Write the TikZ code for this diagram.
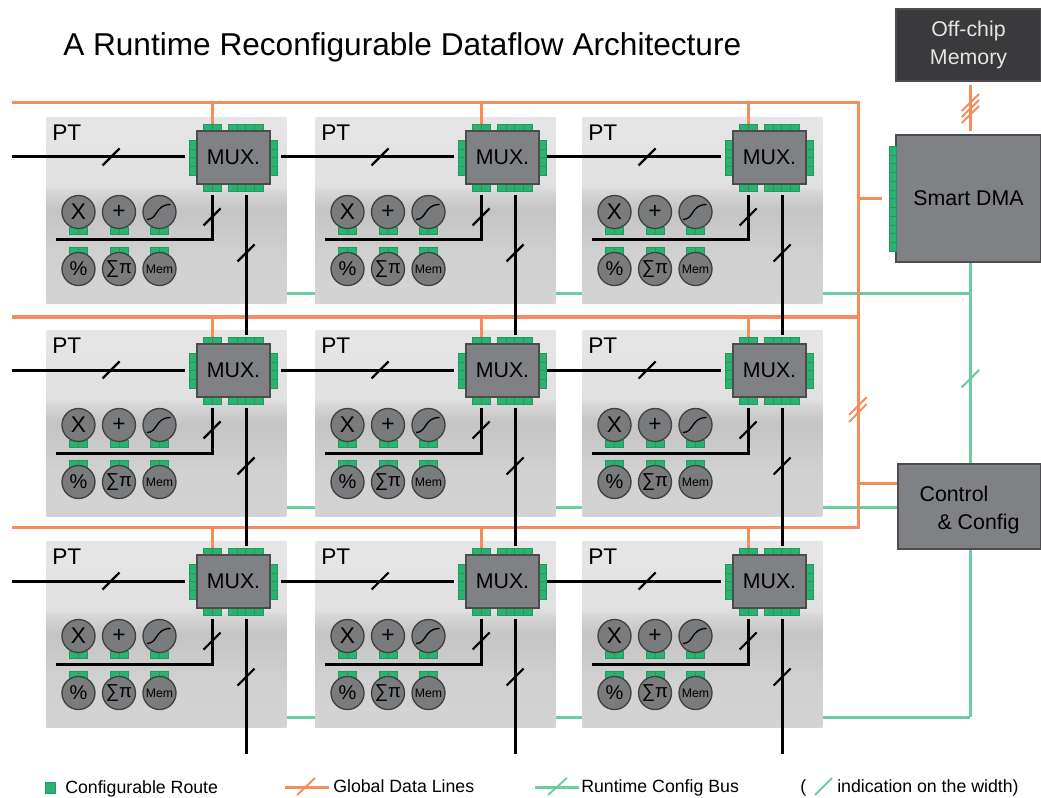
\documentclass[tikz,border=0pt]{standalone}
\usepackage{fontspec}
\setmainfont{Liberation Sans}
\definecolor{globalorange}{RGB}{246,140,92}
\definecolor{configgreen}{RGB}{110,205,160}
\definecolor{padgreen}{RGB}{42,178,112}
\definecolor{padedge}{RGB}{36,150,98}
\definecolor{blockgray}{RGB}{128,129,132}
\definecolor{memgray}{RGB}{58,58,60}
\pgfdeclareverticalshading{tileshade}{100bp}{
  color(0bp)=(black!17); color(25bp)=(black!17); color(37bp)=(black!18);
  color(50bp)=(black!23); color(55bp)=(black!16); color(56.5bp)=(black!12);
  color(75bp)=(black!10); color(100bp)=(black!10)}
\tikzset{
  tile/.style={shading=tileshade, minimum width=180pt, minimum height=139.5pt, inner sep=0pt, anchor=north west},
  muxbox/.style={draw=black!70, line width=0.9pt, fill=blockgray, minimum width=54.75pt, minimum height=39.75pt, inner sep=0pt, font=\fontsize{16}{18}\selectfont},
  opnode/.style={circle, draw=black!75, line width=1pt, fill=blockgray!95!black, minimum size=24.75pt, inner sep=0pt},
  padcell/.style={draw=padedge, line width=0.3pt, fill=padgreen},
  databus/.style={black, line width=2.25pt},
  datatick/.style={black, line width=1.6pt},
  globalbus/.style={globalorange, line width=2.25pt},
  configbus/.style={configgreen, line width=2.25pt},
  sidebox/.style={draw=black!70, line width=0.9pt, fill=blockgray, inner sep=0pt, font=\fontsize{16}{21}\selectfont},
  legendtext/.style={anchor=base west, inner sep=0pt, font=\fontsize{13.3}{16}\selectfont},
}
\begin{document}
\begin{tikzpicture}[x=0.75pt,y=-0.75pt]
\useasboundingbox (0,0) rectangle (1041,798);
\node[anchor=west, inner sep=0pt, font=\fontsize{23.7}{26}\selectfont] (title) at (63,47) {A Runtime Reconfigurable Dataflow Architecture};
%
\node[sidebox, fill=memgray, text=white!90!black, minimum width=108.75pt, minimum height=54pt, align=center] (offmem) at (968.5,45) {Off-chip\\Memory};
\node[sidebox, minimum width=108.75pt, minimum height=95.25pt] (dma) at (968.5,198.5) {Smart DMA};
\node[sidebox, minimum width=107.25pt, minimum height=63.75pt, align=left, text depth=0pt] (ctrl) at (969.5,506.5) {\raisebox{-2pt}{Control}\\\hspace*{13.5pt}\raisebox{-2pt}{\& Config}};
\foreach \i in {0,...,11} {
    \draw[padcell] (889,146+\i*8.75) rectangle +(7,8.75);
}
%
\foreach \col/\tx in {1/0,2/269,3/536} {
  \foreach \row/\ty in {1/0,2/213,3/424} {
    \begin{scope}[shift={(46+\tx,117+\ty)}]
    \node[tile] (tile\col\row) at (0,0) {};
    \node[anchor=west, inner sep=0pt, font=\fontsize{17}{20}\selectfont] (pt\col\row) at (6,16) {PT};
    % pads round the mux
    \foreach \i in {0,1} {
        \draw[padcell] (157+\i*9,7) rectangle +(9,7);
        \draw[padcell] (157+\i*9,67) rectangle +(9,7);
    }
    \foreach \i in {0,...,3} {
        \draw[padcell] (182+\i*8.75,7) rectangle +(8.75,7);
        \draw[padcell] (182+\i*8.75,67) rectangle +(8.75,7);
        \draw[padcell] (143,23+\i*8.75) rectangle +(8,8.75);
        \draw[padcell] (224,23+\i*8.75) rectangle +(7,8.75);
    }
    \node[muxbox] (mux\col\row) at (187.5,40.5) {MUX.};
    % pads of the function units
    \foreach \ux in {32.5,73,113.5} {
        \foreach \i in {0,1} {
            \draw[padcell] (\ux-9+\i*9,110.5) rectangle +(9,6.5);
            \draw[padcell] (\ux-9+\i*9,130.5) rectangle +(9,6.5);
        }
    }
    \node[opnode, font=\fontsize{17}{18}\selectfont] (mul\col\row) at (32.5,95) {X};
    \node[opnode, font=\fontsize{17}{18}\selectfont] (add\col\row) at (73,95) {+};
    \node[opnode] (fun\col\row) at (113.5,95) {};
    \draw[black, line width=1pt] (101,102.5) .. controls (112,102.5) and (109,87.5) .. (124.5,87.5);
    \node[opnode, font=\fontsize{15}{18}\selectfont] (mod\col\row) at (32.5,152) {\%};
    \node[opnode, font=\fontsize{14}{16}\selectfont] (sum\col\row) at (73,152) {∑π};
    \node[opnode, font=\fontsize{9.2}{11}\selectfont] (mem\col\row) at (113.5,152) {Mem};
    % ends of the buses
    \coordinate (in\col\row) at (139,40);
    \coordinate (out\col\row) at (235,40);
    \coordinate (vin\col\row) at (200,5);
    \coordinate (vout\col\row) at (200,78);
    \coordinate (lport\col\row) at (166,78);
    \coordinate (lend\col\row) at (10,123);
    \coordinate (drop\col\row) at (166,7);
    % width marks
    \draw[datatick] (65,40) +(-8.5,8.5) -- +(8.5,-8.5);
    \draw[datatick] (166,100) +(-8.5,8.5) -- +(8.5,-8.5);
    \draw[datatick] (200,136) +(-8.5,8.5) -- +(8.5,-8.5);
    \end{scope}
  }
}
%
\coordinate (gl1) at (12,103);
\coordinate (gl2) at (12,317);
\coordinate (gl3) at (12,527);
\coordinate (gc1) at (858,103);
\coordinate (gc3) at (858,527);
\coordinate (dmaport) at (882,199);
\coordinate (cfgend) at (970,717);
\coordinate (memout) at (970,85);
\coordinate (memin) at (970,131);
%
\foreach \row/\ybus in {1/294,2/507,3/717} {
    \draw[configbus] (tile1\row.east |- 0,\ybus) -- (tile2\row.west |- 0,\ybus);
    \draw[configbus] (tile2\row.east |- 0,\ybus) -- (tile3\row.west |- 0,\ybus);
}
\draw[configbus] (tile31.east |- 0,294) -- (cfgend |- 0,294);
\draw[configbus] (tile32.east |- 0,507) -- (ctrl.west |- 0,507);
\draw[configbus] (tile33.east |- 0,717) -- (cfgend);
\draw[configbus] (dma.south -| cfgend) -- (ctrl.north -| cfgend);
\draw[configbus] (ctrl.south -| cfgend) -- (cfgend);
\draw[configbus, line width=1.6pt] (961.7,387.3) -- (979,370);
%
\draw[globalbus] (gl1) -- (gc1) -- (gc3) -- (gl3);
\draw[globalbus] (gl2) -- (gl2 -| gc1);
\draw[globalbus] (gc1 |- dmaport) -- (dmaport);
\draw[globalbus] (gc1 |- 0,483) -- (ctrl.west |- 0,483);
\draw[globalbus] (memout) -- (memin);
\foreach \col in {1,2,3} {
    \foreach \row in {1,2,3} {
        \draw[globalbus] (drop\col\row) -- (drop\col\row |- gl\row);
    }
}
\foreach \dy in {0,6,12} {
    \draw[globalbus, line width=1.5pt] (961.7,111+\dy) -- (979,94+\dy);
}
\foreach \dy in {0,7} {
    \draw[globalbus, line width=1.5pt] (849,415+\dy) -- (866.7,397+\dy);
}
%
\foreach \row in {1,2,3} {
    \coordinate (start\row) at (in1\row -| gl1);
    \draw[databus] (start\row) -- (in1\row);
    \draw[databus] (out1\row) -- (in2\row);
    \draw[databus] ([xshift=-2pt]out2\row) -- (in3\row);
}
\foreach \col in {1,2,3} {
    \draw[databus] (vout\col1) -- (vin\col2);
    \draw[databus] (vout\col2) -- (vin\col3);
    \draw[databus] (vout\col3) -- (vout\col3 |- 0,754);
    \foreach \row in {1,2,3} {
        \draw[databus] (lport\col\row) -- (lport\col\row |- lend\col\row) -- (lend\col\row);
    }
}
% legend
\draw[padcell] (45,782) rectangle (55,793);
\node[legendtext] (lgroute) at (65,793) {Configurable Route};
\draw[globalbus] (285,787) -- (329,787);
\draw[globalbus, line width=1.4pt] (297,795) -- (315,778);
\node[legendtext] (lgdata) at (333,792) {Global Data Lines};
\draw[configbus] (535,787) -- (579,787);
\draw[configbus, line width=1.4pt] (548,795) -- (567,778);
\node[legendtext] (lgbus) at (581,792) {Runtime Config Bus};
\node[legendtext] (lgopen) at (800,792) {(};
\draw[configbus, line width=1.4pt] (815,795) -- (832,778);
\node[legendtext] (lgwidth) at (837,792) {indication on the width)};
\end{tikzpicture}
\end{document}
